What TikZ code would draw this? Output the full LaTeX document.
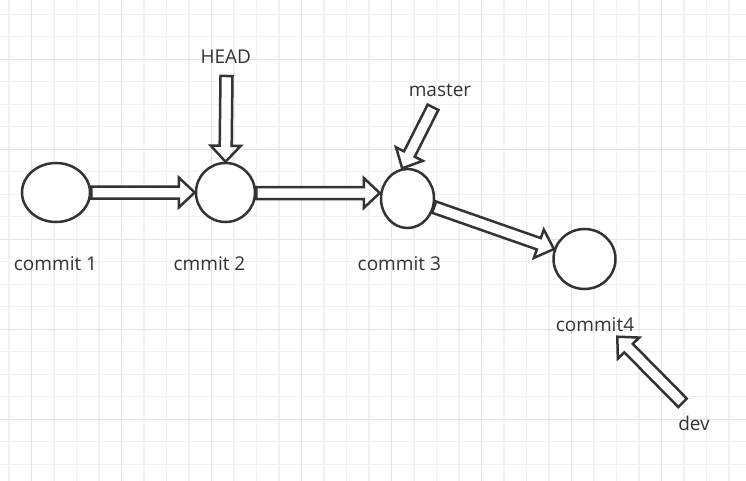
\documentclass[tikz,border=0pt]{standalone}
\usepackage{fontspec}
\setmainfont{Open Sans}
\usetikzlibrary{shapes.geometric,calc}

\definecolor{ink}{HTML}{333333}
\definecolor{gridminor}{HTML}{F0F0F0}
\definecolor{gridmajor}{HTML}{E3E3E3}

\pgfdeclarelayer{bg}
\pgfdeclarelayer{arrows}
\pgfsetlayers{bg,arrows,main}

\tikzset{
  commit/.style={ellipse, draw=ink, fill=white, line width=2.5pt, inner sep=0pt},
  txt/.style={text=ink, anchor=base, inner sep=0pt, font=\fontsize{19}{23}\selectfont},
  fatarrow/.style={draw=ink, fill=white, line width=2.5pt, line join=miter},
}

% hollow block arrow from #1 to tip #2
\newcommand{\fatarrow}[2]{%
  \coordinate (fa-b) at ($(#2)!16pt!(#1)$);
  \draw[fatarrow] ($(#1)!6pt!90:(#2)$) -- ($(fa-b)!6pt!90:(#2)$)
    -- ($(fa-b)!15pt!90:(#2)$) -- (#2) -- ($(fa-b)!15pt!-90:(#2)$)
    -- ($(fa-b)!6pt!-90:(#2)$) -- ($(#1)!6pt!-90:(#2)$) -- cycle;
}

\begin{document}
\begin{tikzpicture}[x=1pt, y=-1pt]
    \useasboundingbox (0,0) rectangle (746,481);

    % grid
    \begin{pgfonlayer}{bg}
    \fill[white] (0,0) rectangle (746,481);
    \foreach \i in {0,...,32}
        \draw[gridminor, line width=1.3pt] ({9+22.5*\i},0) -- ++(0,481);
    \foreach \i in {0,...,20}
        \draw[gridminor, line width=1.3pt] (0,{14.3+22.5*\i}) -- ++(746,0);
    \foreach \i in {0,...,7}
        \draw[gridmajor, line width=1.3pt] ({31.5+90*\i},0) -- ++(0,481);
    \foreach \i in {0,...,4}
        \draw[gridmajor, line width=1.3pt] (0,{59.3+90*\i}) -- ++(746,0);
    \end{pgfonlayer}

    % commits
    \node[commit, minimum width=68pt, minimum height=59pt] (c1) at (56,192.5) {};
    \node[commit, minimum width=59pt, minimum height=59pt] (c2) at (225.5,192.5) {};
    \node[commit, minimum width=53pt, minimum height=59pt] (c3) at (407.5,198.5) {};
    \node[commit, minimum width=62pt, minimum height=60pt] (c4) at (584.5,259) {};

    % labels
    \node[txt] (l1) at (55.5,270.7) {commit 1};
    \node[txt] (l2) at (209.5,270.7) {cmmit 2};
    \node[txt] (l3) at (399.3,270.5) {commit 3};
    \node[txt] (l4) at (595,331) {commit4};
    \node[txt] (head) at (225.8,63.3) {HEAD};
    \node[txt] (master) at (440,96.7) {master};
    \node[txt] (dev) at (694,430) {dev};

    % pointer ends
    \coordinate (hd-t) at (226.5,76);
    \coordinate (ms-t) at (433,107.3);
    \coordinate (dv-t) at (682.5,402.8);
    \coordinate (dv-h) at (617.3,336.7);
    \coordinate (c23) at (c2.east |- 0,193);

    % arrows
    \begin{pgfonlayer}{arrows}
    \fatarrow{c1.east}{c2.west}
    \fatarrow{c23}{c23 -| c3.west}
    \fatarrow{c3.-18}{c4.162}
    \fatarrow{hd-t}{c2.north}
    \fatarrow{ms-t}{c3.100}
    \fatarrow{dv-t}{dv-h}
    \end{pgfonlayer}
\end{tikzpicture}
\end{document}
